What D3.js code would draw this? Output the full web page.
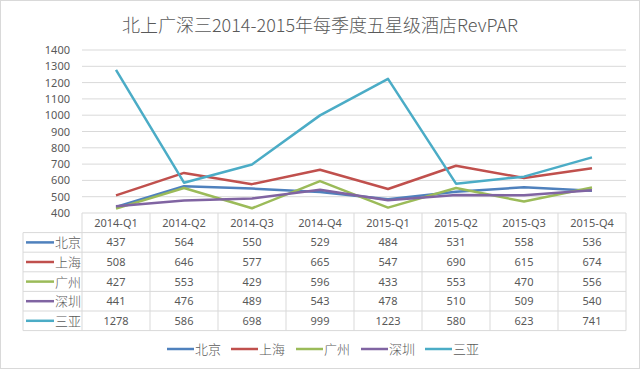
<!DOCTYPE html>
<html>
<head>
<meta charset="utf-8">
<script src="https://cdn.jsdelivr.net/npm/d3@7"></script>
<style>
  body { margin: 0; background: #fff; }
  svg text { font-family: "Noto Sans CJK SC", "Noto Sans", sans-serif; fill: #595959; }
</style>
</head>
<body>
<div id="chart"></div>
<script>
const title = "北上广深三2014-2015年每季度五星级酒店RevPAR";
const quarters = ["2014-Q1", "2014-Q2", "2014-Q3", "2014-Q4", "2015-Q1", "2015-Q2", "2015-Q3", "2015-Q4"];
const cities = ["北京", "上海", "广州", "深圳", "三亚"];
const beijing = [437, 564, 550, 529, 484, 531, 558, 536];
const shanghai = [508, 646, 577, 665, 547, 690, 615, 674];
const guangzhou = [427, 553, 429, 596, 433, 553, 470, 556];
const shenzhen = [441, 476, 489, 543, 478, 510, 509, 540];
const sanya = [1278, 586, 698, 999, 1223, 580, 623, 741];
const yTicks = [400, 500, 600, 700, 800, 900, 1000, 1100, 1200, 1300, 1400];

const seriesValues = [beijing, shanghai, guangzhou, shenzhen, sanya];
const colors = ["#4F81BD", "#C0504D", "#9BBB59", "#8064A2", "#4BACC6"];

const W = 640, H = 369;
const plotLeft = 82, plotRight = 626, plotTop = 50, plotBottom = 213;
const tableLeft = 23, rowH = 19.6, headH = 19.6;

const svg = d3.select("#chart").append("svg")
    .attr("width", W)
    .attr("height", H);

// outer border
svg.append("rect")
    .attr("x", 0.5).attr("y", 0.5)
    .attr("width", W - 1).attr("height", H - 1)
    .attr("fill", "#fff")
    .attr("stroke", "#d9d9d9");

svg.append("text")
    .attr("x", W / 2)
    .attr("y", 32)
    .attr("text-anchor", "middle")
    .style("font-size", "18px")
    .style("font-weight", "300")
    .text(title);

const x = d3.scaleBand().domain(quarters).range([plotLeft, plotRight]);
const y = d3.scaleLinear().domain([400, 1400]).range([plotBottom, plotTop]);

// gridlines
svg.append("g")
    .selectAll("line")
    .data(yTicks.slice(1))
    .enter().append("line")
    .attr("x1", plotLeft).attr("x2", plotRight)
    .attr("y1", d => y(d)).attr("y2", d => y(d))
    .attr("stroke", "#d9d9d9")
    .attr("stroke-width", 1);

// y axis labels
const yAxis = d3.axisLeft(y).tickValues(yTicks).tickFormat(d3.format("d")).tickSize(0).tickPadding(12);
const yg = svg.append("g")
    .attr("transform", `translate(${plotLeft},0)`)
    .call(yAxis);
yg.select(".domain").remove();
yg.selectAll("text")
    .style("font-size", "11px")
    .style("font-family", "'Noto Sans', sans-serif")
    .attr("fill", "#595959");

// data table grid
const tableTop = plotBottom;
const tableBottom = tableTop + headH + rowH * cities.length;
const grid = svg.append("g").attr("stroke", "#d9d9d9").attr("stroke-width", 1);
// verticals for category columns
x.domain().concat(["end"]).forEach(q => {
    const xv = q === "end" ? plotRight : x(q);
    grid.append("line")
        .attr("x1", xv).attr("x2", xv)
        .attr("y1", tableTop).attr("y2", tableBottom);
});
grid.append("line")
    .attr("x1", tableLeft).attr("x2", tableLeft)
    .attr("y1", tableTop + headH).attr("y2", tableBottom);
// horizontals
grid.append("line")
    .attr("x1", plotLeft).attr("x2", plotRight)
    .attr("y1", tableTop).attr("y2", tableTop);
d3.range(cities.length + 1).forEach(i => {
    const yy = tableTop + headH + i * rowH;
    grid.append("line")
        .attr("x1", tableLeft).attr("x2", plotRight)
        .attr("y1", yy).attr("y2", yy);
});

// header labels
svg.append("g")
    .selectAll("text")
    .data(quarters)
    .enter().append("text")
    .attr("x", d => x(d) + x.bandwidth() / 2)
    .attr("y", tableTop + headH / 2 + 4)
    .attr("text-anchor", "middle")
    .style("font-size", "11px")
    .style("font-family", "'Noto Sans', sans-serif")
    .text(d => d);

// table rows
cities.forEach((c, i) => {
    const yy = tableTop + headH + i * rowH + rowH / 2;
    svg.append("line")
        .attr("x1", tableLeft + 3).attr("x2", tableLeft + 31)
        .attr("y1", yy).attr("y2", yy)
        .attr("stroke", colors[i])
        .attr("stroke-width", 2.5);
    svg.append("text")
        .attr("x", tableLeft + 32)
        .attr("y", yy + 5)
        .style("font-size", "13px")
        .style("font-weight", "300")
        .text(c);
    svg.append("g")
        .selectAll("text")
        .data(seriesValues[i])
        .enter().append("text")
        .attr("x", (d, j) => x(quarters[j]) + x.bandwidth() / 2)
        .attr("y", yy + 4)
        .attr("text-anchor", "middle")
        .style("font-size", "11px")
        .style("font-family", "'Noto Sans', sans-serif")
        .text(d => d);
});

// lines
const line = d3.line()
    .x((d, j) => x(quarters[j]) + x.bandwidth() / 2)
    .y(d => y(d));

svg.append("g")
    .selectAll("path")
    .data(seriesValues)
    .enter().append("path")
    .attr("d", d => line(d))
    .attr("fill", "none")
    .attr("stroke", (d, i) => colors[i])
    .attr("stroke-width", 2.5)
    .attr("stroke-linejoin", "round");

// legend
const legendX = [167, 231, 296, 361, 425];
const legend = svg.append("g");
cities.forEach((c, i) => {
    legend.append("line")
        .attr("x1", legendX[i]).attr("x2", legendX[i] + 27)
        .attr("y1", 349).attr("y2", 349)
        .attr("stroke", colors[i])
        .attr("stroke-width", 2.5);
    legend.append("text")
        .attr("x", legendX[i] + 28)
        .attr("y", 354)
        .style("font-size", "13px")
        .style("font-weight", "300")
        .text(c);
});
</script>
</body>
</html>
